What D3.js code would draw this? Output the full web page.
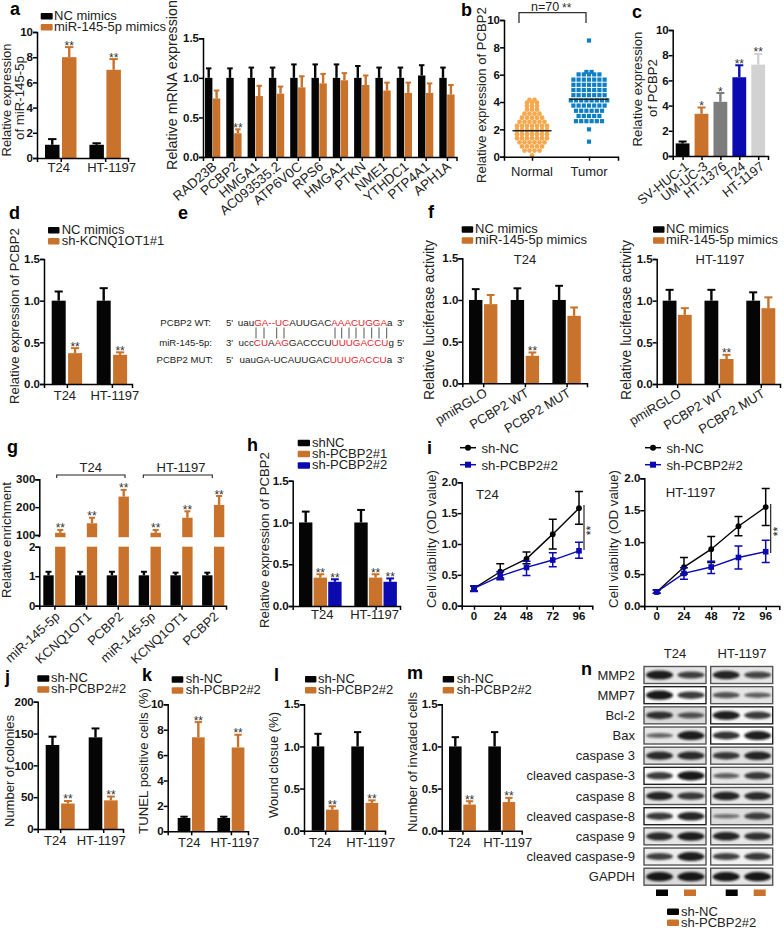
<!DOCTYPE html>
<html><head><meta charset="utf-8"><style>
html,body{margin:0;padding:0;background:#fff}
svg{display:block}
text{font-family:"Liberation Sans",Arial,sans-serif;fill:#222}
.tick text{font-weight:700;font-size:11.5px;fill:#111}
</style>
<script src="https://cdn.jsdelivr.net/npm/d3@7/dist/d3.min.js"></script></head><body>
<script>
// ---------- DATA ----------
const cells=["T24","HT-1197"];
const aNC=[1.05,1.05],aNCtop=[1.5,1.17],aMim=[8,7],aMimTop=[8.8,7.85],aStars=[2,2];
const mrnaGenes=["RAD23B","PCBP2","HMGA1","AC093535.2","ATP6V0C","RPS6","HMGA1","PTKN","NME1","YTHDC1","PTP4A1","APH1A"];
const mrnaNC=[1,1,1,1,1,1,1,1,1,1,1.03,1];
const mrnaNCtop=[1.12,1.12,1.13,1.13,1.17,1.17,1.17,1.15,1.13,1.13,1.16,1.13];
const mrnaMim=[.74,.30,.77,.80,.88,.93,.97,.91,.84,.81,.81,.79];
const mrnaMimTop=[.84,.35,.90,.89,1.02,1.05,1.06,1.03,.94,.94,.93,.91];
const mrnaStars=[0,2,0,0,0,0,0,0,0,0,0,0];
const normalVals=[.1,.45,.45,.45,.45,.75,.75,.75,.75,.75,1.05,1.05,1.05,1.05,1.05,1.05,1.35,1.35,1.35,1.35,1.35,1.35,1.35,1.65,1.65,1.65,1.65,1.65,1.65,1.65,1.95,1.95,1.95,1.95,1.95,1.95,1.95,2.25,2.25,2.25,2.25,2.25,2.25,2.25,2.55,2.55,2.55,2.55,2.55,2.55,2.85,2.85,2.85,2.85,2.85,3.15,3.15,3.15,3.15,3.45,3.45,3.45,3.7,3.7,3.7,3.95,3.95,3.95,4.15,4.15];
const tumorVals=[1.1,2,2.6,2.6,2.6,2.6,2.6,2.6,2.98,2.98,2.98,2.98,2.98,3.36,3.36,3.36,3.36,3.36,3.36,3.74,3.74,3.74,3.74,3.74,3.74,3.74,4.12,4.12,4.12,4.12,4.12,4.12,4.12,4.12,4.5,4.5,4.5,4.5,4.5,4.5,4.5,4.88,4.88,4.88,4.88,4.88,4.88,4.88,5.26,5.26,5.26,5.26,5.26,5.26,5.26,5.64,5.64,5.64,5.64,5.64,5.64,5.64,6.02,6.02,6.02,6.02,6.02,6.2,6.2,8.5];
const bGroups=["Normal","Tumor"],bMeans=[1.9,4.2];
const cLines=["SV-HUC-1","UM-UC-3","HT-1376","T24","HT-1197"];
const cVals=[1,3.35,4.3,6.25,7.25],cTop=[1.15,3.85,5,7.2,8.1],cStars=[0,1,1,2,2];
const dNC=[1,1],dNCtop=[1.11,1.15],dSh=[.37,.35],dShTop=[.43,.38],twoStars=[2,2];
const lucCats=["pmiRGLO","PCBP2 WT","PCBP2 MUT"];
const fT24NC=[1,1,1],fT24NCtop=[1.13,1.14,1.17],fT24Mim=[.95,.33,.81],fT24MimTop=[1.06,.37,.91];
const fHTNC=[1,1,1],fHTNCtop=[1.13,1.13,1.1],fHTMim=[.83,.30,.91],fHTMimTop=[.91,.35,1.04];
const fStars=[0,2,0];
const gCats=["miR-145-5p","KCNQ1OT1","PCBP2","miR-145-5p","KCNQ1OT1","PCBP2"];
const gNC=[1.03,1.03,1.03,1.03,1.03,1.03],gNCtop=[1.15,1.15,1.15,1.15,1.12,1.12];
const gEnr=[108,142,238,108,162,208],gEnrTop=[118,162,262,118,185,240];
const hNC=[1,1],hNCtop=[1.13,1.15],h1=[.34,.34],h1top=[.38,.38],h2=[.29,.29],h2top=[.32,.33];
const hours=[0,24,48,72,96];
const iT24NC=[.28,.55,.76,1.16,1.58],iT24NClo=[.24,.45,.68,.92,1.32],iT24NChi=[.32,.68,.87,1.40,1.85];
const iT24Sh=[.28,.48,.62,.74,.89],iT24Shlo=[.23,.42,.49,.63,.77],iT24Shhi=[.32,.55,.72,.86,1.03];
const iHTNC=[.22,.61,.89,1.25,1.55],iHTNClo=[.2,.5,.68,1.1,1.26],iHTNChi=[.25,.76,1.09,1.40,1.84];
const iHTSh=[.22,.51,.61,.76,.85],iHTShlo=[.2,.42,.51,.58,.68],iHTShhi=[.25,.6,.7,.94,1.03];
const jNC=[132,144],jNCtop=[145,158],jSh=[40,45],jShTop=[44,51];
const kNC=[1.05,1.05],kNCtop=[1.15,1.15],kSh=[7.4,6.6],kShTop=[8.6,7.6];
const lNC=[1,1],lNCtop=[1.15,1.17],lSh=[.25,.33],lShTop=[.29,.36];
const mNC=[1,1],mNCtop=[1.11,1.17],mSh=[.31,.34],mShTop=[.35,.39];
const blotLabels=["MMP2","MMP7","Bcl-2","Bax","caspase 3","cleaved caspase-3","caspase 8","cleaved caspase-8","caspase 9","cleaved caspase-9","GAPDH"];
const blotT24=[[.95,.7],[1,.75],[.8,.55],[.4,.95],[.85,.85],[.75,1],[.9,.75],[.75,.9],[.85,.95],[.7,.95],[1,1]];
const blotHT=[[.9,.65],[.55,.45],[.95,.75],[.8,.95],[.75,.9],[.45,.75],[.9,.85],[.3,.7],[.9,.8],[.7,.75],[1,1]];
const blotBgT24=[.15,.03,.22,.15,.18,.03,.15,.05,.15,.1,.22];
const blotBgHT=[.15,.15,.06,.02,.18,.15,.15,.2,.15,.08,.15];
// ---------- STYLE ----------
const BLACK="#050505",ORANGE="#c9722b",BLUE="#0a0ab0",GRAY="#7d7d7d",LIGHT="#d2d2d2";
const svg=d3.select("body").append("svg").attr("width",784).attr("height",928);
const defs=svg.append("defs");
defs.append("filter").attr("id","bl").attr("x","-30%").attr("y","-60%").attr("width","160%").attr("height","220%")
  .append("feGaussianBlur").attr("stdDeviation",1.1);
function txt(x,y,s,o={}){const t=svg.append("text").attr("x",x).attr("y",y).text(s)
  .attr("font-size",o.size||13).attr("text-anchor",o.anchor||"start");
  if(o.bold)t.attr("font-weight",700); if(o.fill)t.style("fill",o.fill); return t;}
function panelLetter(s,x,y){txt(x,y,s,{size:18,bold:true,fill:"#000"});}
function yTitle(s,x,yc,len){const t=svg.append("text").attr("transform",`translate(${x},${yc}) rotate(-90)`)
  .attr("text-anchor","middle").attr("font-size",13).text(s);
  const w=t.node().getComputedTextLength(); t.attr("font-size",13*len/w);}
function legend(items,swX,swW,txtX,rows){items.forEach((it,i)=>{const r=rows[i];
  svg.append("rect").attr("x",swX).attr("y",r-7).attr("width",swW).attr("height",6.5).attr("rx",1).attr("fill",it[1]);
  txt(txtX,r,it[0],{size:13});});}
function yAxisG(x,scale,ticks,fmt){const g=svg.append("g").attr("transform",`translate(${x},0)`)
  .call(d3.axisLeft(scale).tickValues(ticks).tickFormat(d3.format(fmt)).tickSizeOuter(0).tickSize(4).tickPadding(0));
  g.selectAll("path,line").attr("stroke","#000").attr("stroke-width",1.5); return g;}
function xAxisG(x0,x1,y,ticks){const s=d3.scaleLinear().domain([x0,x1]).range([x0,x1]);
  const g=svg.append("g").attr("transform",`translate(0,${y})`)
  .call(d3.axisBottom(s).tickValues(ticks).tickFormat("").tickSizeOuter(0).tickSize(4));
  g.selectAll("path,line").attr("stroke","#000").attr("stroke-width",1.5); return g;}
function errBar(cx,yTopPx,yBase,color,capW){
  svg.append("line").attr("x1",cx).attr("x2",cx).attr("y1",yTopPx).attr("y2",yBase).attr("stroke",color).attr("stroke-width",2.4);
  svg.append("line").attr("x1",cx-capW/2).attr("x2",cx+capW/2).attr("y1",yTopPx).attr("y2",yTopPx).attr("stroke",color).attr("stroke-width",2);}
function stars(cx,yPx,n){if(n)txt(cx,yPx+2.5,"*".repeat(n),{size:12,anchor:"middle",fill:"#333"});}
function barPanel(c){
  const y=d3.scaleLinear().domain(c.domain).range([c.y0,c.yTop]);
  const gx=d3.scaleLinear().domain([0,1]).range([c.start,c.start+c.step]);
  const sx=d3.scaleLinear().domain([0,1]).range([0,c.pitch]);
  const n=c.series.length, centers=c.cats.map((_,i)=>gx(i)+(sx(n-1)+c.barW)/2);
  c.series.forEach((s,si)=>{
    const colors=s.fills||null;
    svg.append("g").selectAll("rect").data(s.vals).join("rect")
      .attr("x",(d,i)=>gx(i)+sx(si)).attr("width",c.barW)
      .attr("y",d=>y(d)).attr("height",d=>c.y0-y(d)).attr("fill",(d,i)=>colors?colors[i]:s.fill);
    s.vals.forEach((v,i)=>{const cx=gx(i)+sx(si)+c.barW/2;
      errBar(cx,y(s.top[i]),y(v),colors?colors[i]:s.fill,c.capW||c.barW*.58);
      if(s.stars)stars(cx,y(s.top[i]),s.stars[i]);});
  });
  yAxisG(c.axisX,y,c.ticks,c.fmt);
  xAxisG(c.axisX,c.axisEnd,c.y0,centers);
  c.cats.forEach((t,i)=>{
    if(c.rot){svg.append("text").attr("transform",`translate(${centers[i]+c.ldx},${c.y0+c.ldy}) rotate(${-c.rot})`)
      .attr("text-anchor","end").attr("font-size",c.lsize||13).text(t);}
    else txt(centers[i]+(c.ldx?c.ldx[i]:0),c.y0+(c.ldy||15),t,{size:13,anchor:"middle"});
  });
}
const T1=[0,.5,1,1.5];
// a
panelLetter("a",10,15);
legend([["NC mimics",BLACK],["miR-145-5p mimics",ORANGE]],40.7,12,54,[20,31]);
barPanel({axisX:37,axisEnd:128,y0:158,yTop:32,domain:[0,10],ticks:[0,2,4,6,8,10],fmt:"d",start:45,step:44.4,barW:14.5,pitch:17,cats:cells,ldx:[-2,6.5],ldy:14,
 series:[{fill:BLACK,vals:aNC,top:aNCtop},{fill:ORANGE,vals:aMim,top:aMimTop,stars:aStars}]});
yTitle("Relative expression",11,100,113); yTitle("of miR-145-5p",24,98,84);
// a2
barPanel({axisX:203,axisEnd:456.5,y0:157,yTop:38.3,domain:[0,1.5],ticks:T1,fmt:".1f",start:205,step:21.3,barW:7.4,pitch:7.9,capW:5.5,cats:mrnaGenes,rot:40,ldx:5,ldy:11,lsize:13.4,
 series:[{fill:BLACK,vals:mrnaNC,top:mrnaNCtop},{fill:ORANGE,vals:mrnaMim,top:mrnaMimTop,stars:mrnaStars}]});
yTitle("Relative mRNA expression",177,85,170);
// b
panelLetter("b",461,16);
(function(){const y=d3.scaleLinear().domain([0,10]).range([156.7,20]);
 const xc=d3.scalePoint().domain(bGroups).range([532,589]);
 function swarm(vals,st){const m=d3.group(vals,v=>v);const pts=[];
   m.forEach(a=>{a.forEach((v,i)=>{const k=i-(a.length-1)/2;pts.push({v,off:k*st});});});return pts;}
 svg.append("g").selectAll("circle").data(swarm(normalVals,5)).join("circle")
   .attr("cx",d=>xc("Normal")+d.off).attr("cy",d=>y(d.v)).attr("r",2.4).attr("fill","#f5a94e");
 svg.append("g").selectAll("rect").data(swarm(tumorVals,5.2)).join("rect")
   .attr("x",d=>xc("Tumor")+d.off-2.1).attr("y",d=>y(d.v)-2.1).attr("width",4.2).attr("height",4.2).attr("fill","#0f7fc4");
 bGroups.forEach((g,i)=>{svg.append("line").attr("x1",xc(g)-19.5).attr("x2",xc(g)+19.5).attr("y1",y(bMeans[i])).attr("y2",y(bMeans[i])).attr("stroke","#222").attr("stroke-width",1.6);
   txt(xc(g),156.7+19,g,{size:13,anchor:"middle"});});
 yAxisG(504,y,[0,2,4,6,8,10],"d");
 xAxisG(504,618,156.7,bGroups.map(g=>xc(g)));
 svg.append("path").attr("d","M519,23V12.7H586V23").attr("fill","none").attr("stroke","#333").attr("stroke-width",1.3);
 txt(531,10.5,"n=70",{size:12.5}); txt(562,11.5,"**",{size:12,fill:"#333"});
})();
yTitle("Relative expression of PCBP2",486,95,176);
// c
panelLetter("c",632,18);
barPanel({axisX:672.7,axisEnd:768,y0:156,yTop:30,domain:[0,10],ticks:[0,2,4,6,8,10],fmt:"d",start:675.7,step:18.9,barW:13.8,pitch:0,cats:cLines,rot:38,ldx:7,ldy:12,
 series:[{fills:[BLACK,ORANGE,GRAY,BLUE,LIGHT],vals:cVals,top:cTop,stars:cStars}]});
yTitle("Relative expression",642,89,115); yTitle("of PCBP2",657,88,58);
// d
panelLetter("d",9,219);
legend([["NC mimics",BLACK],["sh-KCNQ1OT1#1",ORANGE]],48,11.5,61.7,[234,245]);
barPanel({axisX:44,axisEnd:132,y0:384,yTop:259,domain:[0,1.5],ticks:T1,fmt:".1f",start:51.7,step:45,barW:14,pitch:16.4,cats:cells,ldx:[-2,3],ldy:16,
 series:[{fill:BLACK,vals:dNC,top:dNCtop},{fill:ORANGE,vals:dSh,top:dShTop,stars:twoStars}]});
yTitle("Relative expression of PCBP2",19,316,176);
// e
panelLetter("e",178,219);
const RED="#e3262e";
const E_LAB=9.6,E_SEQ=9.85;
function seq(x,y,parts){const t=txt(x,y,"",{size:E_SEQ});parts.forEach(p=>t.append("tspan").text(p[0]).style("fill",p[1]?RED:"#222"));}
txt(211,325.7,"PCBP2 WT:",{size:E_LAB,anchor:"end"}); txt(226,325.7,"5'",{size:E_LAB}); txt(397,325.7,"3'",{size:E_LAB});
txt(212,346,"miR-145-5p:",{size:E_LAB,anchor:"end"}); txt(226,346,"3'",{size:E_LAB}); txt(397,346,"5'",{size:E_LAB});
txt(213,363.3,"PCBP2 MUT:",{size:E_LAB,anchor:"end"}); txt(226,363.3,"5'",{size:E_LAB}); txt(397,363.3,"3'",{size:E_LAB});
seq(237.7,325.7,[["uau",0],["GA--UC",1],["AUUGAC",0],["AAACUGGA",1],["a",0]]);
seq(238.5,346,[["ucc",0],["CU",1],["A",0],["AG",1],["GACCCU",0],["UUUGACCU",1],["g",0]]);
seq(239.5,363.3,[["uauGA-UCAUUGAC",0],["UUUGACCU",1],["a",0]]);
[256,264,276.7,284,335,341.7,349,356,364,371.7,379,386.7].forEach(x=>svg.append("line").attr("x1",x).attr("x2",x).attr("y1",327.5).attr("y2",338.5).attr("stroke","#444").attr("stroke-width",.9));
// f
panelLetter("f",428,218);
legend([["NC mimics",BLACK],["miR-145-5p mimics",ORANGE]],461.7,11.5,475,[233.3,244.3]);
txt(525,264,"T24",{size:13,anchor:"middle"});
barPanel({axisX:462.3,axisEnd:587,y0:383.3,yTop:258.3,domain:[0,1.5],ticks:T1,fmt:".1f",start:469,step:41.7,barW:13.4,pitch:15,cats:lucCats,rot:31,ldx:5,ldy:12,
 series:[{fill:BLACK,vals:fT24NC,top:fT24NCtop},{fill:ORANGE,vals:fT24Mim,top:fT24MimTop,stars:fStars}]});
yTitle("Relative luciferase activity",434,320,160);
legend([["NC mimics",BLACK],["miR-145-5p mimics",ORANGE]],653,11.5,666,[233.3,244.3]);
txt(720,264,"HT-1197",{size:13,anchor:"middle"});
barPanel({axisX:656.7,axisEnd:780,y0:384,yTop:259,domain:[0,1.5],ticks:T1,fmt:".1f",start:662.7,step:41.8,barW:13.8,pitch:15.2,cats:lucCats,rot:31,ldx:5,ldy:12,
 series:[{fill:BLACK,vals:fHTNC,top:fHTNCtop},{fill:ORANGE,vals:fHTMim,top:fHTMimTop,stars:fStars}]});
yTitle("Relative luciferase activity",631,320,160);
// g
panelLetter("g",7,453);
(function(){const y0=605.7,yLo=d3.scaleLinear().domain([0,2]).range([y0,546.7]);
 const yHi=d3.scaleLinear().domain([100,300]).range([535,479.3]);
 const yCut=yHi(92);
 const gx=d3.scaleLinear().domain([0,1]).range([43.3,75]);
 const W=10.4,P=11.8;
 gCats.forEach((cat,i)=>{const x=gx(i)+(i>=3?.3:0);
  svg.append("rect").attr("x",x).attr("width",W).attr("y",yLo(gNC[i])).attr("height",y0-yLo(gNC[i])).attr("fill",BLACK);
  errBar(x+W/2,yLo(gNCtop[i]),yLo(gNC[i]),BLACK,6);
  const ox=x+P;
  svg.append("rect").attr("x",ox).attr("width",W).attr("y",yLo(2)).attr("height",y0-yLo(2)).attr("fill",ORANGE);
  svg.append("rect").attr("x",ox).attr("width",W).attr("y",yHi(gEnr[i])).attr("height",yCut-yHi(gEnr[i])).attr("fill",ORANGE);
  errBar(ox+W/2,yHi(gEnrTop[i]),yHi(gEnr[i]),ORANGE,6);
  stars(ox+W/2,yHi(gEnrTop[i]),2);
  svg.append("text").attr("transform",`translate(${x+W+7},${y0+12}) rotate(-42)`).attr("text-anchor","end").attr("font-size",13).text(cat);
 });
 yAxisG(39.3,yLo,[0,1,2],"d"); 
 const a=svg.append("g").attr("transform","translate(39.3,0)").call(d3.axisLeft(yHi).tickValues([100,200,300]).tickFormat(d3.format("d")).tickSizeOuter(0).tickSize(4).tickPadding(0));
 a.selectAll("path,line").attr("stroke","#000").attr("stroke-width",1.5);
 svg.append("line").attr("x1",39.3).attr("x2",39.3).attr("y1",535).attr("y2",yCut).attr("stroke","#000").attr("stroke-width",1.5);
 xAxisG(39.3,226,y0,gCats.map((_,i)=>gx(i)+(i>=3?.3:0)+(W+P)/2));
 svg.append("path").attr("d","M56.7,478V475H125V478M143.3,478V475H212.3V478").attr("fill","none").attr("stroke","#222").attr("stroke-width",1.1);
 txt(90.7,471.7,"T24",{size:13,anchor:"middle"}); txt(181,471.7,"HT-1197",{size:13,anchor:"middle"});
})();
yTitle("Relative enrichment",11,540,116);
// h
panelLetter("h",247,451);
legend([["shNC",BLACK],["sh-PCBP2#1",ORANGE],["sh-PCBP2#2",BLUE]],297.7,12.3,312,[446.7,457.8,469.3]);
barPanel({axisX:292.7,axisEnd:400,y0:606,yTop:480.7,domain:[0,1.5],ticks:T1,fmt:".1f",start:299,step:55.3,barW:13.4,pitch:14.6,cats:cells,ldx:[2,-1],ldy:13,
 series:[{fill:BLACK,vals:hNC,top:hNCtop},{fill:ORANGE,vals:h1,top:h1top,stars:twoStars},{fill:BLUE,vals:h2,top:h2top,stars:twoStars}]});
yTitle("Relative expression of PCBP2",269,540,176);
// i
function linePanel(c){
 const x=d3.scaleLinear().domain([0,96]).range(c.xr), y=d3.scaleLinear().domain([0,2]).range([c.y0,c.yTop]);
 const draw=(v,lo,hi,col,sq)=>{
  svg.append("path").datum(v).attr("fill","none").attr("stroke",col).attr("stroke-width",1.4).attr("d",d3.line().x((d,i)=>x(hours[i])).y(d=>y(d)));
  v.forEach((d,i)=>{const cx=x(hours[i]);
   svg.append("path").attr("d",`M${cx-4},${y(hi[i])}H${cx+4}M${cx},${y(hi[i])}V${y(lo[i])}M${cx-4},${y(lo[i])}H${cx+4}`).attr("stroke",col).attr("stroke-width",1.5).attr("fill","none");
   if(sq)svg.append("rect").attr("x",cx-2.8).attr("y",y(d)-2.8).attr("width",5.6).attr("height",5.6).attr("fill",col);
   else svg.append("circle").attr("cx",cx).attr("cy",y(d)).attr("r",2.9).attr("fill",col);});};
 draw(c.nc[0],c.nc[1],c.nc[2],BLACK,false); draw(c.sh[0],c.sh[1],c.sh[2],BLUE,true);
 yAxisG(c.axisX,y,[0,.5,1,1.5,2],".1f");
 xAxisG(c.axisX,c.axisEnd,c.y0,hours.map(h=>x(h)));
 hours.forEach(h=>txt(x(h),c.y0+14,h,{size:11.5,bold:true,anchor:"middle",fill:"#111"}));
 const lx=c.legX;
 [[447.7,BLACK,false,"sh-NC"],[464.7,BLUE,true,"sh-PCBP2#2"]].forEach(r=>{
  svg.append("line").attr("x1",lx).attr("x2",lx+16).attr("y1",r[0]).attr("y2",r[0]).attr("stroke",r[1]).attr("stroke-width",1.5);
  if(r[2])svg.append("rect").attr("x",lx+5).attr("y",r[0]-3).attr("width",6).attr("height",6).attr("fill",r[1]);
  else svg.append("circle").attr("cx",lx+8).attr("cy",r[0]).attr("r",3).attr("fill",r[1]);
  txt(lx+21.5,r[0]+5,r[3],{size:13.2});});
 txt(c.lab[0],c.lab[1],c.name,{size:13.2});
 svg.append("line").attr("x1",c.sig[0]).attr("x2",c.sig[0]).attr("y1",c.sig[1]).attr("y2",c.sig[2]).attr("stroke","#111").attr("stroke-width",1.1);
 svg.append("text").attr("transform",`translate(${c.sig[0]+11},${(c.sig[1]+c.sig[2])/2+3}) rotate(-90)`).attr("text-anchor","middle").attr("font-size",12).text("**");
}
panelLetter("i",427,454);
linePanel({name:"T24",axisX:461.7,axisEnd:592.3,y0:605.7,yTop:482.3,xr:[474,579],legX:460,lab:[476,499],sig:[584,505,550],nc:[iT24NC,iT24NClo,iT24NChi],sh:[iT24Sh,iT24Shlo,iT24Shhi]});
yTitle("Cell viability (OD value)",436,539,138);
linePanel({name:"HT-1197",axisX:644.3,axisEnd:779.3,y0:606,yTop:478.3,xr:[656.7,765.7],legX:645,lab:[665.7,497],sig:[770.7,504,553],nc:[iHTNC,iHTNClo,iHTNChi],sh:[iHTSh,iHTShlo,iHTShhi]});
yTitle("Cell viability (OD value)",618,539,138);
// j k l m
const shLeg=[["sh-NC",BLACK],["sh-PCBP2#2",ORANGE]];
panelLetter("j",5,683);
legend(shLeg,37.3,12,51,[682.3,693.3]);
barPanel({axisX:37.7,axisEnd:123,y0:829,yTop:701.7,domain:[0,200],ticks:[0,50,100,150,200],fmt:"d",start:45.7,step:43,barW:13.6,pitch:15.4,cats:cells,ldx:[-5,-2],ldy:16,
 series:[{fill:BLACK,vals:jNC,top:jNCtop},{fill:ORANGE,vals:jSh,top:jShTop,stars:twoStars}]});
yTitle("Number of colonies",14,771,112);
panelLetter("k",142,681);
legend(shLeg,171.7,11.6,185.7,[683.3,694.3]);
barPanel({axisX:167.7,axisEnd:248,y0:831.3,yTop:704.3,domain:[0,10],ticks:[0,2,4,6,8,10],fmt:"d",start:177.7,step:39.7,barW:12.7,pitch:14.3,cats:cells,ldx:[-2,4],ldy:16,
 series:[{fill:BLACK,vals:kNC,top:kNCtop},{fill:ORANGE,vals:kSh,top:kShTop,stars:twoStars}]});
yTitle("TUNEL positive cells (%)",148,761,146);
panelLetter("l",274,681);
legend(shLeg,305,11.4,318,[683,694]);
barPanel({axisX:304,axisEnd:385,y0:830.7,yTop:704.3,domain:[0,1.5],ticks:T1,fmt:".1f",start:311.7,step:39.6,barW:12.6,pitch:14.3,cats:cells,ldx:[-5,6],ldy:16,
 series:[{fill:BLACK,vals:lNC,top:lNCtop},{fill:ORANGE,vals:lSh,top:lShTop,stars:twoStars}]});
yTitle("Wound closue (%)",278,765,106);
panelLetter("m",407,679);
legend(shLeg,442.7,11.4,456.7,[683,694]);
barPanel({axisX:441.7,axisEnd:521.7,y0:830.7,yTop:704.3,domain:[0,1.5],ticks:T1,fmt:".1f",start:449,step:39.3,barW:12.6,pitch:14.3,cats:cells,ldx:[-3,6],ldy:16,
 series:[{fill:BLACK,vals:mNC,top:mNCtop},{fill:ORANGE,vals:mSh,top:mShTop,stars:twoStars}]});
yTitle("Number of invaded cells",417,762,140);
// n
panelLetter("n",581,675);
txt(675,658,"T24",{size:13,anchor:"middle"}); txt(742,658,"HT-1197",{size:13,anchor:"middle"});
const rowY=d3.scalePoint().domain(blotLabels).range([675,876.7]);
const grey=d3.scaleLinear().domain([0,1]).range(["#ffffff","#555555"]);
function blotCol(x0,x1,bands,bgs){
 const bx=d3.scaleLinear().domain([0,1]).range([x0+15.5,x1-15]);
 blotLabels.forEach((lab,i)=>{const cy=rowY(lab);
  svg.append("rect").attr("x",x0).attr("y",cy-8.5).attr("width",x1-x0).attr("height",17).attr("fill",grey(bgs[i])).attr("stroke",bgs[i]<.08?"#222":"#555").attr("stroke-width",1.4);
  bands[i].forEach((d,j)=>svg.append("ellipse").attr("cx",bx(j)).attr("cy",cy).attr("rx",13.5).attr("ry",1.2+3.4*d).attr("fill","#111").attr("opacity",.35+.6*d).attr("filter","url(#bl)"));
 });}
blotCol(644,706,blotT24,blotBgT24); blotCol(710.7,772.7,blotHT,blotBgHT);
blotLabels.forEach(l=>txt(635,rowY(l)+4.5,l,{size:13,anchor:"end"}));
[[656,BLACK],[684,ORANGE],[725.7,BLACK],[753.7,ORANGE]].forEach(s=>svg.append("rect").attr("x",s[0]).attr("y",889.5).attr("width",12).attr("height",6.5).attr("fill",s[1]));
legend(shLeg,667,12,681,[915.5,926.5]);
</script></body></html>
